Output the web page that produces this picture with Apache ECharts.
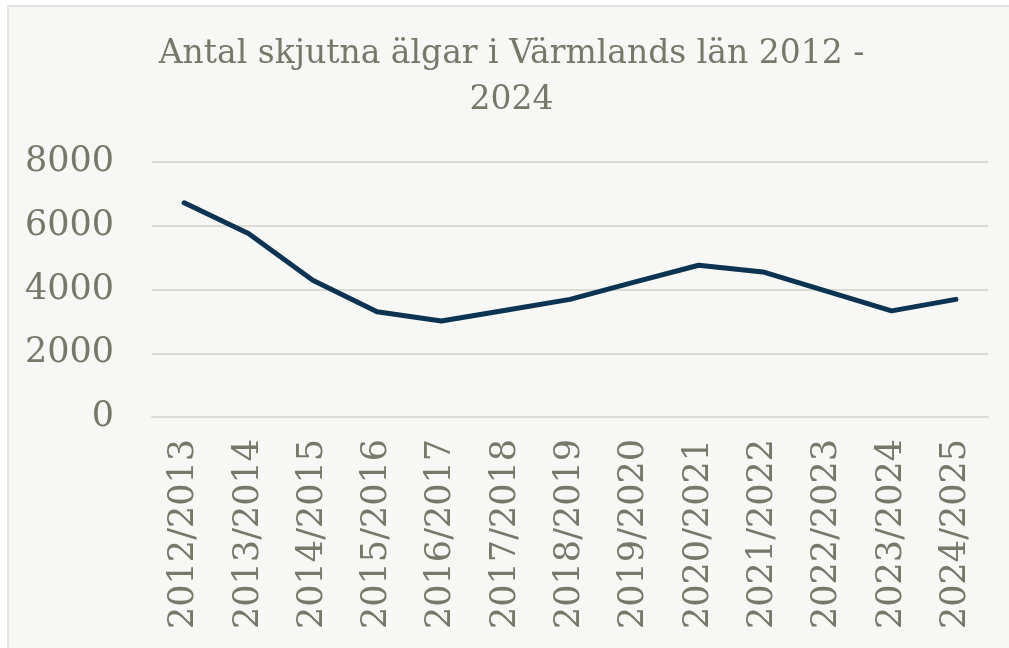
<!DOCTYPE html>
<html>
<head>
<meta charset="utf-8">
<script src="https://cdn.jsdelivr.net/npm/echarts@6/dist/echarts.min.js"></script>
<style>
  html, body { margin: 0; padding: 0; background: #ffffff; overflow: hidden; width: 1009px; height: 648px; }
  #panel { position: absolute; left: 7px; top: 5px; width: 1100px; height: 700px; background: #f7f7f5;
           border-top: 2px solid #e3e3e1; border-left: 2px solid #e3e3e1; }
  #main { position: absolute; left: 7px; top: 0; width: 1009px; height: 648px; }
</style>
</head>
<body>
<div id="panel"></div>
<div id="main"></div>
<script>
// säsonger
const seasons = ['2012/2013', '2013/2014', '2014/2015', '2015/2016', '2016/2017', '2017/2018', '2018/2019',
                 '2019/2020', '2020/2021', '2021/2022', '2022/2023', '2023/2024', '2024/2025'];
// antal skjutna älgar
const killed = [6720, 5760, 4290, 3300, 3010, 3350, 3690, 4230, 4760, 4550, 3940, 3330, 3690];
const yTicks = [0, 2000, 4000, 6000, 8000];

const textColor = '#76786a';
const font = 'DejaVu Serif';

const chart = echarts.init(document.getElementById('main'));
chart.setOption({
    backgroundColor: 'transparent',
    animation: false,
    title: {
        text: 'Antal skjutna älgar i Värmlands län 2012 -\n2024',
        left: 'center',
        top: 26,
        textStyle: {
            color: textColor,
            fontFamily: font,
            fontWeight: 'normal',
            fontSize: 33,
            lineHeight: 46
        }
    },
    grid: { left: 145, right: 28, top: 162, height: 255 },
    xAxis: {
        type: 'category',
        data: seasons,
        boundaryGap: true,
        axisLine: { show: true, lineStyle: { color: '#dcdcd7', width: 2 } },
        axisTick: { show: false },
        axisLabel: {
            rotate: 90,
            interval: 0,
            margin: 22,
            color: textColor,
            fontFamily: font,
            fontSize: 35
        }
    },
    yAxis: {
        type: 'value',
        min: yTicks[0],
        max: yTicks[yTicks.length - 1],
        interval: 2000,
        axisLine: { show: false },
        axisTick: { show: false },
        splitLine: { lineStyle: { color: '#dcdcd7', width: 2 } },
        axisLabel: {
            margin: 38,
            color: textColor,
            fontFamily: font,
            fontSize: 35,
            formatter: v => String(v)
        }
    },
    series: [{
        type: 'line',
        data: killed,
        symbol: 'none',
        lineStyle: { color: '#0c3452', width: 5, cap: 'round', join: 'round' }
    }]
});
</script>
</body>
</html>
